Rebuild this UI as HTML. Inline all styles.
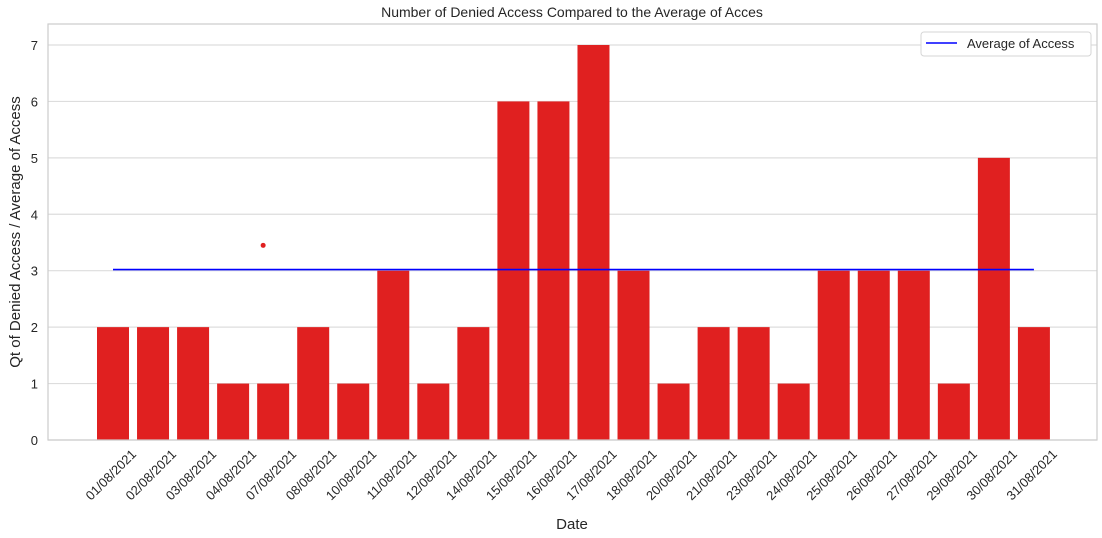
<!DOCTYPE html>
<html><head><meta charset="utf-8"><style>
body{margin:0;background:#fff;}
svg{display:block;font-family:"Liberation Sans",sans-serif;}
</style></head><body>
<svg id="chart" width="1102" height="538">
<text x="572" y="17" text-anchor="middle" font-size="14" fill="#262626">Number of Denied Access Compared to the Average of Acces</text>
<g id="grid"></g>
<g id="bars"></g>
<g id="xlabels"></g>
<g id="ylabels"></g>
<rect x="48" y="24" width="1049" height="416" fill="none" stroke="#cccccc" stroke-width="1.2"/>
<text x="572" y="529" text-anchor="middle" font-size="15" fill="#262626">Date</text>
<text transform="translate(20,232) rotate(-90)" text-anchor="middle" font-size="15" fill="#262626">Qt of Denied Access / Average of Access</text>
<g>
<rect x="921" y="32" width="170" height="24" rx="3" fill="#fff" stroke="#d6d6d6"/>
<line x1="926" y1="43" x2="957" y2="43" stroke="#0000ff" stroke-width="1.6"/>
<text x="967" y="48" font-size="13" fill="#262626">Average of Access</text>
</g>
</svg>
<script>
const categories=["01/08/2021","02/08/2021","03/08/2021","04/08/2021","07/08/2021","08/08/2021","10/08/2021","11/08/2021","12/08/2021","14/08/2021","15/08/2021","16/08/2021","17/08/2021","18/08/2021","20/08/2021","21/08/2021","23/08/2021","24/08/2021","25/08/2021","26/08/2021","27/08/2021","29/08/2021","30/08/2021","31/08/2021"];
const deniedValues=[2,2,2,1,1,2,1,3,1,2,6,6,7,3,1,2,2,1,3,3,3,1,5,2];
const averageValue=3.02;
const yTicks=[0,1,2,3,4,5,6,7];
const outlierValue=3.45;
const outlierIndex=3.75;
const NS="http://www.w3.org/2000/svg";
const x0=113,step=40.04,bw=32;
function xs(i){return x0+i*step;}
function ys(v){return 440-v*56.43;}
function mk(t,a,p){const e=document.createElementNS(NS,t);for(const k in a)e.setAttribute(k,a[k]);p.appendChild(e);return e;}
const grid=document.getElementById('grid'),bars=document.getElementById('bars'),xl=document.getElementById('xlabels'),yl=document.getElementById('ylabels'),svg=document.getElementById('chart');
yTicks.forEach(v=>{
 const g=mk('line',{x1:48,x2:1097,y1:ys(v),y2:ys(v),stroke:'#dddddd','stroke-width':1.2},grid);
 
 
 const t=mk('text',{x:38,y:ys(v)+5,'text-anchor':'end','font-size':13,fill:'#262626'},yl);
 t.textContent=v;
 
 
});
deniedValues.forEach((v,i)=>{
 const r=mk('rect',{x:xs(i)-bw/2,y:ys(v),width:bw,height:440-ys(v),fill:'#e02020'},bars);
 
 
});
categories.forEach((c,i)=>{
 const t=mk('text',{transform:`translate(${xs(i)+24},${455}) rotate(-45)`,'text-anchor':'end','font-size':13,fill:'#262626'},xl);
 t.textContent=c;
 
 
});
const l=mk('line',{x1:xs(0),x2:xs(categories.length-1),y1:ys(averageValue),y2:ys(averageValue),stroke:'#0000ff','stroke-width':1.6},svg);


const d=mk('circle',{cx:xs(outlierIndex),cy:ys(outlierValue),r:2.5,fill:'#e02020'},svg);


</script>
</body></html>
